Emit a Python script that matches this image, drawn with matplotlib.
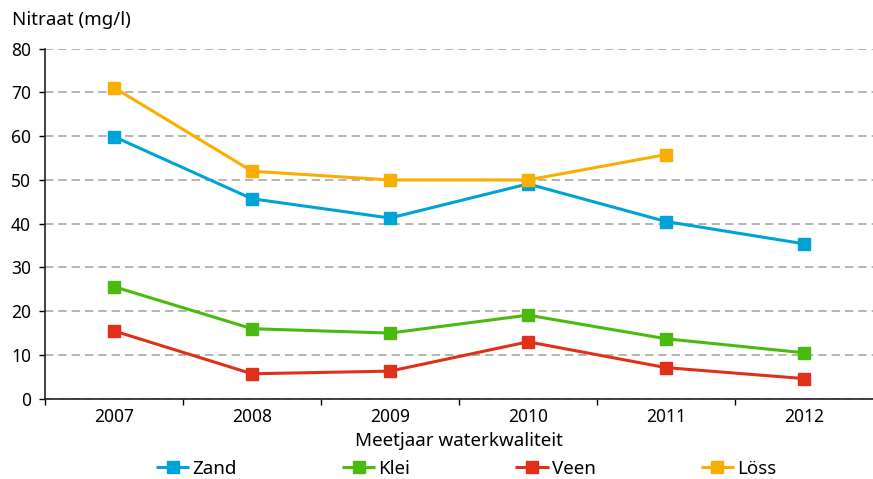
import matplotlib
matplotlib.use("Agg")
import matplotlib.pyplot as plt
import numpy as np

plt.rcParams['font.family'] = ['Noto Sans', 'DejaVu Sans']

years = ['2007', '2008', '2009', '2010', '2011', '2012']
zand = [59.9, 45.7, 41.3, 49.1, 40.5, 35.4]
klei = [25.6, 16.0, 15.0, 19.1, 13.7, 10.5]
veen = [15.5, 5.7, 6.3, 13.0, 7.1, 4.6]
loss = [71.1, 52.0, 50.0, 50.0, 55.8, np.nan]

series = [('Zand', zand, '#00a3d8'), ('Klei', klei, '#4bba0f'),
          ('Veen', veen, '#e1301a'), ('Löss', loss, '#f9ae00')]

fig = plt.figure(figsize=(8.73, 4.79), dpi=100)
ax = fig.add_axes([45/873, (479-398.7)/479, (873-45)/873, 350/479])

x = np.arange(len(years))
for name, vals, col in series:
    ax.plot(x, vals, color=col, lw=2.2, marker='s', ms=8.8, label=name,
            solid_capstyle='butt', zorder=3, clip_on=False)

ax.set_xlim(-0.5, len(years) - 0.5)
ax.set_ylim(0, 80)
ax.set_yticks(range(0, 81, 10))
ax.set_xticks(x)
ax.set_xticklabels(years)
ax.set_xticks(np.arange(-0.5, len(years) - 1), minor=True)
ax.tick_params(axis='x', which='major', length=0, labelsize=12.5, pad=7)
ax.tick_params(axis='x', which='minor', length=4, width=1, direction='out')
ax.tick_params(axis='y', length=4, width=1, direction='out', labelsize=12.5, pad=6)
ax.yaxis.grid(True, color='#a8a8a8', ls=(0, (5, 3)), lw=1.2)
ax.set_axisbelow(True)
for s in ['top', 'right']:
    ax.spines[s].set_visible(False)
for s in ['left', 'bottom']:
    ax.spines[s].set_linewidth(1.2)
    ax.spines[s].set_color('#222222')

ax.set_xlabel('Meetjaar waterkwaliteit', fontsize=13.5, labelpad=4)
fig.text(12/873, 1 - 20/479, 'Nitraat (mg/l)', fontsize=13.5, va='center', ha='left')

fig.legend(loc='center', bbox_to_anchor=(466/873, 1 - 469/479), ncol=4,
           frameon=False, fontsize=13.5, handlelength=1.8, handletextpad=0.15,
           columnspacing=5.6, markerscale=1.0)

fig.savefig('out.png', dpi=100)
